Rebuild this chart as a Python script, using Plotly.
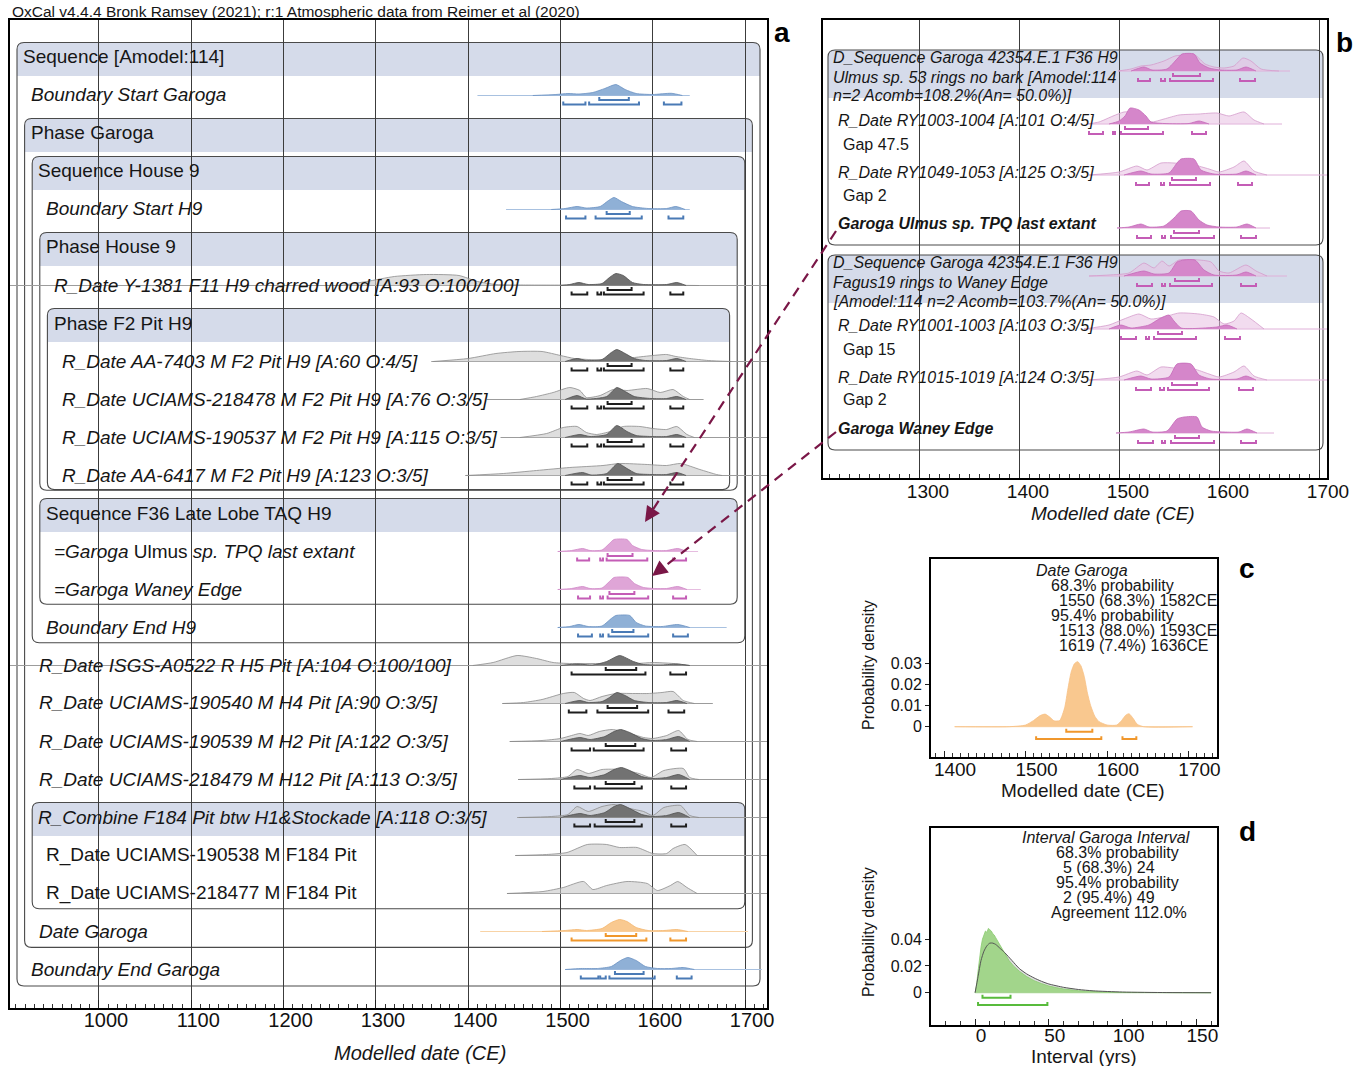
import plotly.graph_objects as go

W, H = 1367, 1066          # target picture size (all layout positions are given in these pixels)
FIG_W = 1389               # figure width compensating the horizontal squeeze seen in the photograph
FONT = "Liberation Sans, Arial, Helvetica, sans-serif"

# ===================== DATA =====================
a_ticks = [1000, 1100, 1200, 1300, 1400, 1500, 1600, 1700]
b_ticks = [1300, 1400, 1500, 1600, 1700]
c_ticks = [1400, 1500, 1600, 1700]
d_ticks = [0, 50, 100, 150]
c_yticks = [0, 0.01, 0.02, 0.03]
c_yticktext = ["0", "0.01", "0.02", "0.03"]
d_yticks = [0, 0.02, 0.04]
d_yticktext = ["0", "0.02", "0.04"]

header_text = "OxCal v4.4.4 Bronk Ramsey (2021); r:1 Atmospheric data from Reimer et al (2020)"

# ---- panel a: rows ----
a_labels = [
    "Sequence [Amodel:114]",
    "<i>Boundary Start Garoga</i>",
    "Phase Garoga",
    "Sequence House 9",
    "<i>Boundary Start H9</i>",
    "Phase House 9",
    "<i>R_Date Y-1381 F11 H9 charred wood [A:93 O:100/100]</i>",
    "Phase F2 Pit H9",
    "<i>R_Date AA-7403 M F2 Pit H9 [A:60 O:4/5]</i>",
    "<i>R_Date UCIAMS-218478 M F2 Pit H9 [A:76 O:3/5]</i>",
    "<i>R_Date UCIAMS-190537 M F2 Pit H9 [A:115 O:3/5]</i>",
    "<i>R_Date AA-6417 M F2 Pit H9 [A:123 O:3/5]</i>",
    "Sequence F36 Late Lobe TAQ H9",
    "<i>=Garoga </i>Ulmus<i> sp. TPQ last extant</i>",
    "<i>=Garoga Waney Edge</i>",
    "<i>Boundary End H9</i>",
    "<i>R_Date ISGS-A0522 R H5 Pit [A:104 O:100/100]</i>",
    "<i>R_Date UCIAMS-190540 M H4 Pit [A:90 O:3/5]</i>",
    "<i>R_Date UCIAMS-190539 M H2 Pit [A:122 O:3/5]</i>",
    "<i>R_Date UCIAMS-218479 M H12 Pit [A:113 O:3/5]</i>",
    "<i>R_Combine F184 Pit btw H1&amp;Stockade [A:118 O:3/5]</i>",
    "R_Date UCIAMS-190538 M F184 Pit",
    "R_Date UCIAMS-218477 M F184 Pit",
    "<i>Date Garoga</i>",
    "<i>Boundary End Garoga</i>",
]
a_is_header = [1, 0, 1, 1, 0, 1, 0, 1, 0, 0, 0, 0, 1, 0, 0, 0, 0, 0, 0, 0, 1, 0, 0, 0, 0]
a_level = [0, 0, 1, 2, 2, 3, 3, 4, 4, 4, 4, 4, 3, 3, 3, 2, 1, 1, 1, 1, 2, 2, 2, 1, 0]
# (first row, last row, nesting level)
a_boxes = [(0, 24, 0), (2, 23, 1), (3, 15, 2), (5, 11, 3), (7, 11, 4), (12, 14, 3), (20, 22, 2)]

# ---- panel a: distributions (year, relative height) ----
bsg_post = [(1470, 0), (1495, 1), (1508, 2), (1520, 1.5), (1535, 3), (1548, 7), (1560, 11), (1570, 6), (1582, 2), (1600, 1), (1620, 2.2), (1632, 0)]
bsg_span = (1410, 1640)
bsg_68 = [(1542, 1574)]
bsg_95 = [(1503, 1527), (1531, 1585), (1612, 1631)]

bsh_post = [(1490, 0), (1505, 1), (1518, 3), (1528, 1.5), (1543, 3), (1552, 9), (1558, 12), (1566, 8), (1578, 3), (1595, 1), (1615, 1), (1625, 3), (1635, 0)]
bsh_span = (1441, 1640)
bsh_68 = [(1550, 1575)]
bsh_95 = [(1506, 1527), (1538, 1588), (1617, 1633)]

y1381_prior = [(1262, 0), (1290, 4), (1320, 9), (1355, 11), (1390, 10), (1410, 4), (1430, 1), (1460, 0.5), (1520, 0.4), (1600, 0.4), (1650, 0)]
y1381_post = [(1500, 0), (1510, 1), (1520, 3), (1530, 1), (1545, 2), (1553, 8), (1560, 12), (1568, 10), (1578, 3), (1590, 1), (1615, 1), (1626, 3), (1636, 0)]
y1381_span = (903, 1724)
y1381_68 = [(1551, 1577)]
y1381_95 = [(1512, 1529), (1540, 1544), (1547, 1590), (1619, 1633)]

aa7403_prior = [(1362, 0), (1400, 3), (1430, 8), (1455, 10), (1480, 10), (1500, 6), (1515, 3), (1530, 2), (1545, 1.5), (1560, 2), (1580, 4), (1600, 6), (1615, 7), (1625, 5), (1640, 3), (1660, 1), (1685, 0)]
aa7403_post = [(1505, 0), (1518, 3), (1528, 1), (1545, 2), (1555, 9), (1561, 12), (1570, 8), (1580, 3), (1592, 1), (1615, 1), (1626, 3), (1636, 0)]
aa7403_span = (1360, 1724)
aa7403_68 = [(1551, 1577)]
aa7403_95 = [(1512, 1529), (1540, 1544), (1547, 1590), (1619, 1633)]

u218478_prior = [(1456, 0), (1474, 3), (1492, 7), (1510, 12), (1521, 9), (1528, 2), (1543, 4), (1557, 10), (1572, 9), (1594, 11), (1608, 7), (1622, 10), (1633, 3), (1640, 0)]
u218478_post = [(1505, 0), (1518, 4), (1528, 0.5), (1550, 3), (1561, 12), (1570, 8), (1580, 3), (1598, 1), (1615, 1), (1626, 3), (1636, 0)]
u218478_span = (1420, 1655)
u218478_68 = [(1551, 1577)]
u218478_95 = [(1512, 1529), (1540, 1544), (1547, 1590), (1619, 1633)]

u190537_prior = [(1456, 0), (1485, 4), (1503, 10), (1518, 11), (1528, 5), (1539, 3), (1554, 6), (1568, 11), (1586, 11), (1600, 9), (1615, 8), (1626, 11), (1637, 3), (1645, 0)]
u190537_post = [(1505, 0), (1521, 3), (1532, 1), (1550, 3), (1561, 12), (1572, 6), (1582, 2), (1598, 1), (1615, 1), (1626, 3), (1636, 0)]
u190537_span = (1435, 1724)
u190537_68 = [(1551, 1577)]
u190537_95 = [(1512, 1529), (1540, 1544), (1547, 1590), (1619, 1633)]

aa6417_prior = [(1397, 0), (1438, 2), (1474, 5), (1510, 8), (1546, 10), (1564, 12), (1594, 11), (1615, 10), (1630, 12), (1651, 6), (1669, 1), (1675, 0)]
aa6417_post = [(1505, 0), (1524, 3), (1533, 0.5), (1550, 2), (1562, 12), (1572, 7), (1582, 2), (1598, 1), (1615, 1), (1626, 3), (1636, 0)]
aa6417_span = (1397, 1724)
aa6417_68 = [(1551, 1577)]
aa6417_95 = [(1512, 1529), (1540, 1544), (1547, 1590), (1619, 1633)]

ulm_a_post = [(1497, 0), (1512, 1), (1524, 3), (1532, 1), (1545, 1.5), (1553, 8), (1558, 12), (1572, 12), (1578, 6), (1588, 2), (1600, 1), (1615, 1), (1627, 3), (1637, 0)]
ulm_a_span = (1497, 1649)
ulm_a_68 = [(1551, 1578)]
ulm_a_95 = [(1518, 1531), (1543, 1546), (1550, 1594), (1622, 1636)]

wan_a_post = [(1497, 0), (1512, 1), (1524, 3), (1532, 1), (1545, 1.5), (1553, 8), (1558, 12), (1573, 12), (1580, 6), (1590, 2), (1602, 1), (1615, 1), (1627, 3), (1637, 0)]
wan_a_span = (1497, 1652)
wan_a_68 = [(1553, 1580)]
wan_a_95 = [(1519, 1532), (1543, 1546), (1551, 1595), (1622, 1636)]

beh_post = [(1497, 0), (1510, 1), (1520, 3), (1530, 1), (1545, 1.5), (1555, 9), (1560, 12), (1575, 12), (1582, 5), (1592, 1.5), (1610, 1), (1627, 3), (1640, 0)]
beh_span = (1497, 1680)
beh_68 = [(1556, 1579)]
beh_95 = [(1519, 1534), (1543, 1546), (1552, 1595), (1622, 1638)]

isgs_prior = [(1405, 0), (1427, 3), (1453, 10), (1474, 7), (1492, 3), (1510, 2), (1546, 2), (1583, 2), (1600, 3), (1622, 2), (1640, 0)]
isgs_post = [(1500, 0), (1518, 1.5), (1535, 0.5), (1550, 4), (1564, 10), (1579, 4), (1590, 1), (1610, 0.5), (1626, 1.5), (1640, 0)]
isgs_span = (903, 1724)
isgs_68 = [(1549, 1582)]
isgs_95 = [(1512, 1592), (1619, 1636)]

u190540_prior = [(1437, 0), (1460, 1), (1480, 4), (1503, 10), (1515, 11), (1525, 5), (1532, 3), (1545, 7), (1560, 10), (1578, 10), (1595, 10), (1610, 11), (1622, 12), (1633, 3), (1645, 0)]
u190540_post = [(1505, 0), (1521, 3), (1530, 1), (1545, 2), (1553, 6), (1561, 11), (1570, 8), (1580, 3), (1595, 1), (1615, 1), (1626, 3), (1637, 0)]
u190540_span = (1437, 1665)
u190540_68 = [(1551, 1583)]
u190540_95 = [(1509, 1528), (1540, 1595), (1617, 1634)]

u190539_prior = [(1445, 0), (1480, 1), (1500, 3), (1512, 6), (1521, 8), (1530, 6), (1542, 10), (1556, 12), (1572, 9), (1590, 4), (1600, 3), (1615, 6), (1628, 11), (1638, 2), (1648, 0)]
u190539_post = [(1500, 0), (1521, 4), (1532, 2), (1548, 5), (1558, 10), (1565, 12), (1575, 9), (1588, 3), (1600, 1), (1615, 2), (1628, 5), (1640, 0)]
u190539_span = (1445, 1724)
u190539_68 = [(1549, 1581)]
u190539_95 = [(1512, 1532), (1536, 1590), (1620, 1636)]

u218479_prior = [(1454, 0), (1490, 1), (1508, 3), (1518, 10), (1530, 6), (1545, 10), (1565, 10), (1585, 6), (1598, 2), (1612, 9), (1633, 11), (1640, 2), (1650, 0)]
u218479_post = [(1500, 0), (1521, 4), (1532, 2), (1548, 5), (1558, 10), (1566, 12), (1575, 9), (1588, 3), (1600, 1), (1615, 2), (1628, 5), (1640, 0)]
u218479_span = (1454, 1724)
u218479_68 = [(1549, 1580)]
u218479_95 = [(1515, 1532), (1537, 1588), (1620, 1636)]

rcomb_prior = [(1455, 0), (1490, 1), (1508, 3), (1518, 11), (1530, 6), (1545, 11), (1558, 13), (1575, 9), (1590, 6), (1600, 2), (1612, 10), (1630, 12), (1640, 2), (1650, 0)]
rcomb_post = [(1500, 0), (1521, 4), (1532, 2), (1548, 5), (1558, 11), (1565, 13), (1575, 9), (1588, 3), (1600, 1), (1615, 2), (1628, 5), (1640, 0)]
rcomb_span = (1453, 1724)
rcomb_68 = [(1549, 1580)]
rcomb_95 = [(1515, 1532), (1537, 1588), (1620, 1636)]

u190538_prior = [(1451, 0), (1485, 1), (1507, 3), (1529, 11), (1550, 11), (1564, 8), (1583, 8), (1600, 2), (1615, 2), (1622, 7), (1635, 11), (1648, 0)]
u190538_span = (1451, 1724)

u218477_prior = [(1442, 0), (1481, 2), (1503, 6), (1525, 12), (1535, 4), (1550, 8), (1572, 12), (1594, 10), (1605, 3), (1619, 8), (1627, 12), (1637, 6), (1648, 0)]
u218477_span = (1442, 1724)

dg_post = [(1480, 0), (1505, 1), (1518, 2), (1528, 1), (1545, 3), (1555, 9), (1564, 12), (1572, 10), (1582, 4), (1595, 1), (1612, 1), (1626, 2), (1638, 0)]
dg_span = (1413, 1703)
dg_68 = [(1549, 1582)]
dg_95 = [(1512, 1593), (1619, 1636)]

beg_post = [(1505, 0), (1522, 1), (1540, 1), (1555, 3), (1565, 9), (1573, 12), (1582, 9), (1592, 3), (1605, 1), (1620, 1), (1633, 2), (1645, 0)]
beg_span = (1505, 1718)
beg_68 = [(1559, 1590)]
beg_95 = [(1522, 1541), (1543, 1549), (1553, 1602), (1626, 1642)]

# row index, colour set, prior, posterior, baseline span, 68% ranges, 95% ranges
a_dists = [
    (1, "blue", None, bsg_post, bsg_span, bsg_68, bsg_95),
    (4, "blue", None, bsh_post, bsh_span, bsh_68, bsh_95),
    (6, "gray", y1381_prior, y1381_post, y1381_span, y1381_68, y1381_95),
    (8, "gray", aa7403_prior, aa7403_post, aa7403_span, aa7403_68, aa7403_95),
    (9, "gray", u218478_prior, u218478_post, u218478_span, u218478_68, u218478_95),
    (10, "gray", u190537_prior, u190537_post, u190537_span, u190537_68, u190537_95),
    (11, "gray", aa6417_prior, aa6417_post, aa6417_span, aa6417_68, aa6417_95),
    (13, "pink", None, ulm_a_post, ulm_a_span, ulm_a_68, ulm_a_95),
    (14, "pink", None, wan_a_post, wan_a_span, wan_a_68, wan_a_95),
    (15, "blue", None, beh_post, beh_span, beh_68, beh_95),
    (16, "gray", isgs_prior, isgs_post, isgs_span, isgs_68, isgs_95),
    (17, "gray", u190540_prior, u190540_post, u190540_span, u190540_68, u190540_95),
    (18, "gray", u190539_prior, u190539_post, u190539_span, u190539_68, u190539_95),
    (19, "gray", u218479_prior, u218479_post, u218479_span, u218479_68, u218479_95),
    (20, "gray", rcomb_prior, rcomb_post, rcomb_span, rcomb_68, rcomb_95),
    (21, "gray", u190538_prior, None, u190538_span, [], []),
    (22, "gray", u218477_prior, None, u218477_span, [], []),
    (23, "orange", None, dg_post, dg_span, dg_68, dg_95),
    (24, "blue", None, beg_post, beg_span, beg_68, beg_95),
]

# ---- panel b ----
b_texts = [
    "<i>D_Sequence Garoga 42354.E.1 F36 H9</i>",
    "<i>Ulmus sp. 53 rings no bark [Amodel:114</i>",
    "<i>n=2 Acomb=108.2%(An= 50.0%)]</i>",
    "<i>R_Date RY1003-1004 [A:101 O:4/5]</i>",
    "Gap 47.5",
    "<i>R_Date RY1049-1053 [A:125 O:3/5]</i>",
    "Gap 2",
    "<b><i>Garoga Ulmus sp. TPQ last extant</i></b>",
    "<i>D_Sequence Garoga 42354.E.1 F36 H9</i>",
    "<i>Fagus19 rings to Waney Edge</i>",
    "<i>[Amodel:114 n=2 Acomb=103.7%(An= 50.0%)]</i>",
    "<i>R_Date RY1001-1003 [A:103 O:3/5]</i>",
    "Gap 15",
    "<i>R_Date RY1015-1019 [A:124 O:3/5]</i>",
    "Gap 2",
    "<b><i>Garoga Waney Edge</i></b>",
]
b_text_x = [831, 831, 831, 836, 841, 836, 841, 836, 831, 831, 831, 836, 841, 836, 841, 836]
b_text_y = [58, 77, 96, 121, 144, 172, 196, 223, 263, 282, 301, 326, 349, 377, 400, 428]

bu_hdr_prior = [(1499, 0), (1512, 2), (1522, 5), (1532, 6), (1545, 10), (1556, 15), (1566, 16), (1576, 16), (1586, 7), (1595, 4), (1605, 3), (1615, 5), (1624, 13), (1632, 10), (1642, 2), (1660, 0)]
bu_hdr_post = [(1512, 0), (1525, 4), (1533, 1), (1548, 2), (1558, 12), (1563, 17), (1575, 17), (1581, 8), (1590, 3), (1602, 1), (1618, 1), (1627, 4), (1637, 0)]
bu_hdr_span = (1499, 1671)
bu_hdr_68 = [(1554, 1581)]
bu_hdr_95 = [(1519, 1531), (1542, 1546), (1551, 1594), (1621, 1636)]

ry1003_prior = [(1468, 0), (1480, 2), (1494, 8), (1505, 12), (1515, 12), (1522, 9), (1532, 2), (1545, 5), (1560, 9), (1580, 10), (1598, 11), (1610, 8), (1625, 12), (1635, 4), (1645, 0)]
ry1003_post = [(1490, 0), (1500, 3), (1506, 8), (1511, 16), (1520, 14), (1527, 8), (1532, 2), (1545, 0.5), (1570, 0.5), (1580, 3), (1590, 0)]
ry1003_span = (1469, 1663)
ry1003_68 = [(1506, 1529)]
ry1003_95 = [(1470, 1484), (1494, 1496), (1502, 1544), (1573, 1587)]

ry1049_prior = [(1470, 0), (1500, 3), (1518, 9), (1528, 5), (1542, 12), (1555, 12), (1575, 10), (1590, 6), (1600, 3), (1615, 8), (1625, 14), (1635, 4), (1648, 0)]
ry1049_post = [(1505, 0), (1522, 4), (1532, 1), (1550, 2), (1558, 12), (1562, 16), (1575, 16), (1582, 5), (1595, 1), (1618, 1), (1627, 4), (1637, 0)]
ry1049_span = (1470, 1708)
ry1049_68 = [(1553, 1577)]
ry1049_95 = [(1517, 1530), (1542, 1545), (1551, 1591), (1619, 1633)]

ulm_b_post = [(1498, 0), (1510, 1), (1522, 4), (1530, 1), (1545, 2), (1555, 10), (1562, 17), (1572, 17), (1580, 8), (1588, 3), (1600, 1), (1618, 1), (1628, 4), (1637, 0)]
ulm_b_span = (1498, 1651)
ulm_b_68 = [(1555, 1580)]
ulm_b_95 = [(1518, 1532), (1543, 1546), (1552, 1595), (1622, 1637)]

fw_hdr_prior = [(1470, 0), (1490, 1), (1510, 3), (1525, 13), (1535, 8), (1543, 15), (1550, 10), (1560, 16), (1580, 16), (1592, 14), (1600, 5), (1610, 3), (1627, 11), (1637, 5), (1648, 0)]
fw_hdr_post = [(1505, 0), (1525, 5), (1535, 2), (1550, 3), (1558, 14), (1565, 16), (1576, 16), (1585, 6), (1595, 1), (1618, 1), (1627, 4), (1637, 0)]
fw_hdr_span = (1470, 1668)
fw_hdr_68 = [(1556, 1580)]
fw_hdr_95 = [(1518, 1533), (1543, 1546), (1551, 1593), (1622, 1637)]

ry1001_prior = [(1465, 0), (1490, 4), (1505, 10), (1520, 15), (1532, 10), (1545, 12), (1560, 16), (1580, 15), (1595, 12), (1605, 5), (1615, 8), (1622, 16), (1632, 10), (1645, 0)]
ry1001_post = [(1490, 0), (1502, 4), (1512, 1), (1530, 4), (1540, 10), (1550, 14), (1555, 8), (1562, 1), (1575, 0.5), (1598, 2), (1608, 4), (1618, 0)]
ry1001_span = (1465, 1708)
ry1001_68 = [(1539, 1563)]
ry1001_95 = [(1502, 1517), (1527, 1530), (1535, 1577), (1606, 1621)]

ry1015_prior = [(1470, 0), (1500, 3), (1518, 9), (1528, 5), (1542, 13), (1555, 12), (1575, 11), (1590, 6), (1600, 3), (1615, 8), (1625, 14), (1635, 4), (1648, 0)]
ry1015_post = [(1505, 0), (1522, 4), (1532, 1), (1550, 3), (1558, 16), (1572, 16), (1580, 5), (1592, 1), (1618, 1), (1627, 4), (1637, 0)]
ry1015_span = (1470, 1708)
ry1015_68 = [(1553, 1578)]
ry1015_95 = [(1517, 1532), (1541, 1545), (1549, 1590), (1620, 1634)]

wan_b_post = [(1497, 0), (1510, 1), (1525, 4), (1533, 1), (1548, 2), (1558, 14), (1565, 16), (1578, 16), (1583, 6), (1592, 2), (1605, 1), (1620, 1), (1628, 4), (1638, 0)]
wan_b_span = (1497, 1655)
wan_b_68 = [(1556, 1580)]
wan_b_95 = [(1519, 1534), (1543, 1546), (1552, 1595), (1622, 1637)]

b_dists = [
    (bu_hdr_prior, bu_hdr_post, bu_hdr_span, bu_hdr_68, bu_hdr_95),
    (ry1003_prior, ry1003_post, ry1003_span, ry1003_68, ry1003_95),
    (ry1049_prior, ry1049_post, ry1049_span, ry1049_68, ry1049_95),
    (None, ulm_b_post, ulm_b_span, ulm_b_68, ulm_b_95),
    (fw_hdr_prior, fw_hdr_post, fw_hdr_span, fw_hdr_68, fw_hdr_95),
    (ry1001_prior, ry1001_post, ry1001_span, ry1001_68, ry1001_95),
    (ry1015_prior, ry1015_post, ry1015_span, ry1015_68, ry1015_95),
    (None, wan_b_post, wan_b_span, wan_b_68, wan_b_95),
]
b_base_y = [71, 124, 175, 228, 276, 329, 380, 433]

# ---- panel c: Date Garoga ----
c_x = [1413, 1480, 1500, 1510, 1518, 1524, 1530, 1535, 1542, 1548, 1552, 1556, 1560, 1564, 1568, 1572, 1576, 1580, 1585, 1590, 1600, 1612, 1618, 1623, 1627, 1632, 1637, 1645, 1705]
c_dens = [0, 0, 0.0008, 0.003, 0.0053, 0.006, 0.0045, 0.0028, 0.003, 0.009, 0.018, 0.026, 0.030, 0.031, 0.029, 0.024, 0.016, 0.010, 0.005, 0.0025, 0.0008, 0.0008, 0.003, 0.0055, 0.0062, 0.004, 0.0012, 0, 0]
c_68 = [(1550, 1582)]
c_95 = [(1513, 1593), (1619, 1636)]
c_texts = ["<i>Date Garoga</i>", "68.3% probability", "1550 (68.3%) 1582CE", "95.4% probability", "1513 (88.0%) 1593CE", "1619 (7.4%) 1636CE"]
c_text_x = [1034, 1049, 1057, 1049, 1057, 1057]

# ---- panel d: Interval ----
d_x = [0, 1, 2, 3, 4, 5, 6, 7, 8, 9, 10, 11, 12, 13, 14, 15, 17, 20, 23, 26, 30, 35, 40, 45, 50, 55, 60, 70, 80, 90, 100, 120, 140, 160]
d_post = [0, 0.006, 0.016, 0.026, 0.034, 0.040, 0.043, 0.046, 0.045, 0.048, 0.047, 0.046, 0.044, 0.043, 0.041, 0.039, 0.035, 0.029, 0.024, 0.020, 0.016, 0.012, 0.009, 0.0068, 0.005, 0.0038, 0.0028, 0.0015, 0.0008, 0.0004, 0.0002, 0.0001, 0, 0]
d_prior_x = [0, 2, 4, 6, 8, 10, 12, 14, 17, 20, 25, 30, 35, 40, 45, 50, 60, 70, 80, 100, 130, 160]
d_prior = [0, 0.012, 0.024, 0.031, 0.035, 0.037, 0.037, 0.036, 0.033, 0.030, 0.024, 0.018, 0.014, 0.011, 0.0085, 0.0065, 0.004, 0.0024, 0.0014, 0.0005, 0.0001, 0]
d_68 = [(5, 24)]
d_95 = [(2, 49)]
d_texts = ["<i>Interval Garoga Interval</i>", "68.3% probability", "5 (68.3%) 24", "95.4% probability", "2 (95.4%) 49", "Agreement 112.0%"]
d_text_x = [1020, 1054, 1061, 1054, 1061, 1049]

# ===================== STYLES =====================
COL = {
    "blue": dict(fill="#8fb0d6", line="#6a90c2", base="#a8c1e0", br="#4a7ab5"),
    "gray": dict(fill="#727272", line="#4f4f4f", base="#9c9c9c", br="#1e1e1e",
                 pfill="rgba(200,200,200,0.6)", pline="#8c8c8c"),
    "pink": dict(fill="#dfa5d7", line="#cf86c6", base="#e6bde0", br="#c45db6"),
    "orange": dict(fill="#f9c990", line="#f4b56c", base="#f8d3a6", br="#f0972c"),
}
BAND = "rgb(213,219,234)"
BOXLINE = "#4a4a4a"
TXT = "#161616"


def P(x):
    return x / W


def Q(y):
    return 1 - y / H


fig = go.Figure()


def add_dist(pts, base, scale, fill, line, xa, ya, lw=0.8):
    xs = [p[0] for p in pts]
    ys = [base + scale * p[1] for p in pts]
    fig.add_trace(go.Scatter(x=xs, y=ys, mode="lines", fill="toself", fillcolor=fill,
                             line=dict(color=line, width=lw, shape="spline", smoothing=0.6),
                             xaxis=xa, yaxis=ya, hoverinfo="skip", showlegend=False))


def add_line(xs, ys, color, width, xa, ya, dash=None):
    fig.add_trace(go.Scatter(x=xs, y=ys, mode="lines",
                             line=dict(color=color, width=width, dash=dash),
                             xaxis=xa, yaxis=ya, hoverinfo="skip", showlegend=False))


def add_brackets(spans, y, tick, color, xa, ya, w=2):
    xs, ys = [], []
    for a, b in spans:
        xs += [a, a, b, b, None]
        ys += [y + tick, y, y, y + tick, None]
    if xs:
        add_line(xs, ys, color, w, xa, ya)


def rr_path(x0, y0, x1, y1, r, top_only=False):
    rx, ry = r / W, r / H
    X0, X1, YT, YB = P(x0), P(x1), Q(y0), Q(y1)
    if top_only:
        return (f"M {X0},{YB} L {X0},{YT - ry} Q {X0},{YT} {X0 + rx},{YT} "
                f"L {X1 - rx},{YT} Q {X1},{YT} {X1},{YT - ry} L {X1},{YB} Z")
    return (f"M {X0 + rx},{YT} L {X1 - rx},{YT} Q {X1},{YT} {X1},{YT - ry} "
            f"L {X1},{YB + ry} Q {X1},{YB} {X1 - rx},{YB} L {X0 + rx},{YB} "
            f"Q {X0},{YB} {X0},{YB + ry} L {X0},{YT - ry} Q {X0},{YT} {X0 + rx},{YT} Z")


def text(s, x, y, size, xanchor="left", color=TXT, angle=0):
    fig.add_annotation(text=s, x=P(x), y=Q(y), xref="paper", yref="paper",
                       xanchor=xanchor, yanchor="middle", showarrow=False, textangle=angle,
                       font=dict(family=FONT, size=size, color=color))


# ===================== PANEL A =====================
ROW0, ROWH = 57, 38


def yc(i):
    return ROW0 + ROWH * i


for (r0, r1, lv) in a_boxes:
    left, right = 17 + 7.6 * lv, 760 - 7.6 * lv
    top, bot = yc(r0) - 14.5, yc(r1) + 17 - 0.6 * lv
    fig.add_shape(type="path", path=rr_path(left, top, right, yc(r0) + 19, 7, top_only=True),
                  xref="paper", yref="paper", fillcolor=BAND, line=dict(width=0), layer="below")
    fig.add_shape(type="path", path=rr_path(left, top, right, bot, 7),
                  xref="paper", yref="paper", line=dict(color=BOXLINE, width=1.1), layer="below")

for i, lab in enumerate(a_labels):
    x = (21 if a_is_header[i] else 29) + 7.7 * a_level[i]
    text(lab, x, yc(i), 19)

for (row, cs, prior, post, span, b68, b95) in a_dists:
    c = COL[cs]
    base = yc(row) + 0.5
    add_line([span[0], span[1]], [base, base], c["base"], 1, "x", "y")
    if prior:
        add_dist(prior, base, -1, c["pfill"], c["pline"], "x", "y")
    if post:
        add_dist(post, base, -1, c["fill"], c["line"], "x", "y")
    add_brackets(b68, yc(row) + 5, -3, c["br"], "x", "y")
    add_brackets(b95, yc(row) + 9.5, -3, c["br"], "x", "y")

# ===================== PANEL B =====================
PB = dict(pfill="rgba(232,192,226,0.55)", pline="#d49ccc", fill="#d586ca", line="#c56bb9",
          base="#e0b0d9", br="#c45db6")
for (t, bb) in [(50, 98), (255, 303)]:
    fig.add_shape(type="path", path=rr_path(828, t, 1323, bb, 7, top_only=True),
                  xref="paper", yref="paper", fillcolor=BAND, line=dict(width=0), layer="below")
for (t, bt) in [(50, 245), (255, 450)]:
    fig.add_shape(type="path", path=rr_path(828, t, 1323, bt, 7),
                  xref="paper", yref="paper", line=dict(color=BOXLINE, width=1.1), layer="below")

for s, x, y in zip(b_texts, b_text_x, b_text_y):
    text(s, x, y, 16)

for (prior, post, span, b68, b95), base in zip(b_dists, b_base_y):
    add_line([span[0], span[1]], [base, base], PB["base"], 1, "x2", "y2")
    if prior:
        add_dist(prior, base, -1, PB["pfill"], PB["pline"], "x2", "y2")
    add_dist(post, base, -1, PB["fill"], PB["line"], "x2", "y2")
    add_brackets(b68, base + 5, -3, PB["br"], "x2", "y2")
    add_brackets(b95, base + 10, -3, PB["br"], "x2", "y2")

# ===================== PANEL C =====================
add_line([c_x[0], c_x[-1]], [0, 0], "#f8d3a6", 1, "x3", "y3")
fig.add_trace(go.Scatter(x=c_x, y=c_dens, mode="lines", fill="toself", fillcolor="#f9c88f",
                         line=dict(color="#f7c084", width=0.8, shape="spline", smoothing=0.6),
                         xaxis="x3", yaxis="y3", hoverinfo="skip", showlegend=False))
add_brackets(c_68, -0.0024, 0.0014, "#f0972c", "x3", "y3")
add_brackets(c_95, -0.0059, 0.0014, "#f0972c", "x3", "y3")
for k, (s, x) in enumerate(zip(c_texts, c_text_x)):
    text(s, x, 570 + 15 * k, 16)
text("Probability density", 868, 665, 16, xanchor="center", angle=-90)

# ===================== PANEL D =====================
add_line([0, 160], [0, 0], "#8fcf78", 1, "x4", "y4")
fig.add_trace(go.Scatter(x=d_prior_x, y=d_prior, mode="lines", fill="toself", fillcolor="rgba(200,200,200,0.6)",
                         line=dict(width=0), xaxis="x4", yaxis="y4", hoverinfo="skip", showlegend=False))
fig.add_trace(go.Scatter(x=d_x, y=d_post, mode="lines", fill="toself", fillcolor="#a2d58b",
                         line=dict(color="#8acb70", width=0.8), xaxis="x4", yaxis="y4",
                         hoverinfo="skip", showlegend=False))
fig.add_trace(go.Scatter(x=d_prior_x, y=d_prior, mode="lines",
                         line=dict(color="#555555", width=1, shape="spline", smoothing=0.6),
                         xaxis="x4", yaxis="y4", hoverinfo="skip", showlegend=False))
add_brackets(d_68, -0.0037, 0.0022, "#58bb3c", "x4", "y4")
add_brackets(d_95, -0.0092, 0.0022, "#58bb3c", "x4", "y4")
for k, (s, x) in enumerate(zip(d_texts, d_text_x)):
    text(s, x, 837 + 15 * k, 16)
text("Probability density", 868, 932, 16, xanchor="center", angle=-90)

# ===================== ARROWS =====================
ARC = "#7a1747"
for (x0, y0, x1, y1, hx, hy) in [(836, 231, 650, 514, 645, 522), (836, 432, 660, 570, 652, 576)]:
    fig.add_shape(type="line", x0=P(x0), y0=Q(y0), x1=P(x1), y1=Q(y1), xref="paper", yref="paper",
                  line=dict(color=ARC, width=2.2, dash="10px,7px"), layer="above")
    dx, dy = x0 - hx, y0 - hy
    n = (dx * dx + dy * dy) ** 0.5
    fig.add_annotation(x=P(hx), y=Q(hy), xref="paper", yref="paper", text="", showarrow=True,
                       ax=dx / n * 16, ay=dy / n * 16, arrowhead=2, arrowsize=1.4, arrowwidth=2.2,
                       arrowcolor=ARC)

# ===================== TITLES / LABELS =====================
text(header_text, 10, 12, 15.5)
text("<i>Modelled date (CE)</i>", 420, 1053, 20, xanchor="center")
text("<i>Modelled date (CE)</i>", 1113, 513, 19, xanchor="center")
text("Modelled date (CE)", 1083, 790, 19, xanchor="center")
text("Interval (yrs)", 1084, 1056, 19, xanchor="center")
for s, x, y in [("a", 782, 33), ("b", 1344, 42), ("c", 1247, 568), ("d", 1247, 831)]:
    text(f"<b>{s}</b>", x, y, 28, xanchor="center", color="#000")


# ===================== AXES =====================
def xax(domain, rng, ticks, shift, standoff, grid, minor_dtick, size=19, ticklen=8):
    return dict(domain=domain, range=rng, tickmode="array", tickvals=ticks, ticktext=[str(t) for t in ticks],
                ticks="inside", ticklen=ticklen, tickwidth=1, tickcolor="#222",
                minor=dict(tickmode="linear", tick0=0, dtick=minor_dtick, ticks="inside", ticklen=4,
                           tickcolor="#333", tickwidth=1, showgrid=False),
                showgrid=grid, gridcolor="#3c3c3c", gridwidth=1, zeroline=False,
                showline=True, linecolor="black", linewidth=2, mirror=True,
                tickfont=dict(family=FONT, size=size, color="#111"),
                ticklabelshift=shift, ticklabelstandoff=standoff,
                fixedrange=True)


def yax_plain(domain, rng):
    return dict(domain=domain, range=rng, showticklabels=False, ticks="", showgrid=False, zeroline=False,
                showline=True, linecolor="black", linewidth=2, mirror=True, fixedrange=True)


def yax_num(domain, rng, vals, texts):
    return dict(domain=domain, range=rng, tickmode="array", tickvals=vals, ticktext=texts,
                ticks="outside", ticklen=4, tickcolor="#222", showgrid=False, zeroline=False,
                showline=True, linecolor="black", linewidth=2, mirror=True,
                tickfont=dict(family=FONT, size=16, color="#111"), fixedrange=True)


fig.update_layout(
    width=FIG_W, height=H, autosize=False,
    margin=dict(l=0, r=0, t=0, b=0),
    paper_bgcolor="white", plot_bgcolor="rgba(0,0,0,0)",
    showlegend=False,
    xaxis=dict(**xax([P(10), P(767)], [903.6, 1723.7], a_ticks, 7, -7, True, 10, size=20), anchor="y"),
    yaxis=dict(**yax_plain([Q(1008), Q(20)], [1008, 20]), anchor="x"),
    xaxis2=dict(**xax([P(823), P(1327)], [1204, 1708], b_ticks, 9, -5, True, 10), anchor="y2"),
    yaxis2=dict(**yax_plain([Q(478), Q(20)], [478, 20]), anchor="x2"),
    xaxis3=dict(**xax([P(931), P(1217)], [1384, 1735], c_ticks, 11, -6, False, 10, ticklen=6), anchor="y3"),
    yaxis3=dict(**yax_num([Q(757), Q(559)], [-0.01443, 0.0799], c_yticks, c_yticktext), anchor="x3"),
    xaxis4=dict(**xax([P(931), P(1217)], [-29.9, 164], d_ticks, 6, -8, False, 10, ticklen=6), anchor="y4"),
    yaxis4=dict(**yax_num([Q(1025), Q(828)], [-0.0241, 0.1229], d_yticks, d_yticktext), anchor="x4"),
)

fig.write_html("out.html", config={"displayModeBar": False},
               post_script="document.body.style.margin='0px';document.body.style.overflow='hidden';")
